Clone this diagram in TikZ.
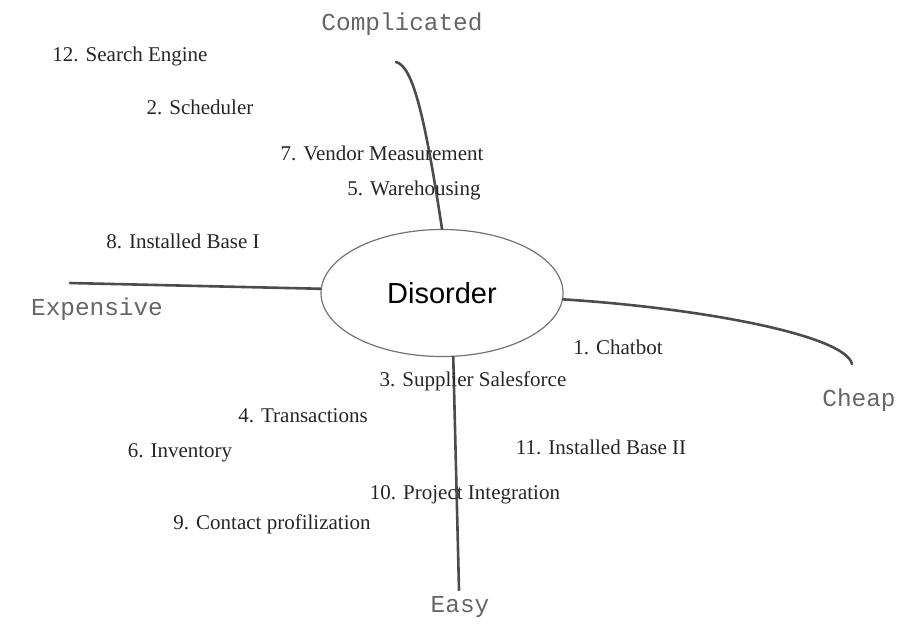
\documentclass[tikz,border=0pt]{standalone}
\usepackage{fontspec}
\setmainfont{Liberation Serif}
\newfontfamily\axisfont{Liberation Mono}
\newfontfamily\centerfont{Liberation Sans}
\usetikzlibrary{shapes.geometric}

\tikzset{
  axis/.style={line width=1.3pt, draw=black!70, line cap=round},
  item/.style={font=\fontsize{10.5}{12}\selectfont, text=black!85, inner sep=0pt},
  pole/.style={font=\axisfont\fontsize{12.2}{14}\selectfont, text=black!60, inner sep=0pt},
}

\begin{document}
\begin{tikzpicture}[x=0.5pt, y=-0.5pt]
	\useasboundingbox (0,0) rectangle (897,623);

	\node[ellipse, draw=black!55, line width=0.6pt, minimum width=121pt, minimum height=63.5pt, inner sep=0pt,
	      font=\centerfont\fontsize{14.5}{16}\selectfont] (dis) at (442,293) {Disorder};

	% Achsen
	\coordinate (cTop) at (396,62);
	\coordinate (cLeft) at (70,283);
	\coordinate (cRight) at (852,364);
	\coordinate (cBottom) at (459,590);

	\draw[axis] (cTop) .. controls (412,66) and (424,110) .. (dis.north);
	\draw[axis] (cLeft) -- (dis.178);
	\draw[axis] (dis.-3) .. controls (700,308) and (845,335) .. (cRight);
	\draw[axis] (dis.-80) -- (cBottom);

	\node[pole] (complicated) at (402,24) {Complicated};
	\node[pole] (expensive) at (97,309) {Expensive};
	\node[pole] (cheap) at (859,400) {Cheap};
	\node[pole] (easy) at (460,607) {Easy};

	% Punkte
	\node[item] (n12) at (130,56) {12. Search Engine};
	\node[item] (n2) at (200,107) {2. Scheduler};
	\node[item] (n7) at (382,153) {7. Vendor Measurement};
	\node[item] (n5) at (414,190) {5. Warehousing};
	\node[item] (n8) at (183,241) {8. Installed Base I};
	\node[item] (n1) at (618,347) {1. Chatbot};
	\node[item] (n3) at (473,381) {3. Supplier Salesforce};
	\node[item] (n4) at (303,416) {4. Transactions};
	\node[item] (n6) at (180,453) {6. Inventory};
	\node[item] (n11) at (601,447) {11. Installed Base II};
	\node[item] (n10) at (465,495) {10. Project Integration};
	\node[item] (n9) at (272,524) {9. Contact profilization};

\end{tikzpicture}
\end{document}
